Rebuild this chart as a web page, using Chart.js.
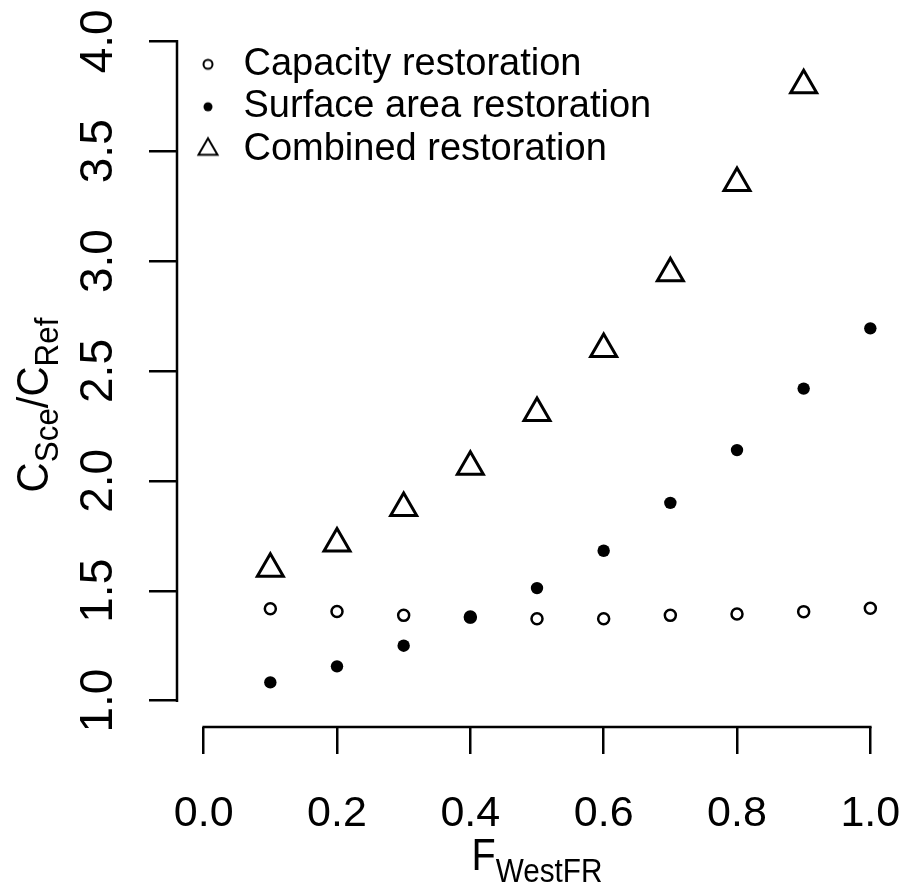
<!DOCTYPE html>
<html lang="en">
<head>
<meta charset="UTF-8">
<title>Restoration scenarios</title>
<script src="https://cdn.jsdelivr.net/npm/chart.js"></script>
<style>
  body { margin: 0; background: #fff; }
  #wrap { width: 907px; height: 893px; }
</style>
</head>
<body>
<div id="wrap"><canvas id="chart" width="907" height="893"></canvas></div>
<script>
// values
const fWest = [0.1, 0.2, 0.3, 0.4, 0.5, 0.6, 0.7, 0.8, 0.9, 1.0];
const capacity = [1.418, 1.406, 1.388, 1.380, 1.373, 1.373, 1.388, 1.394, 1.405, 1.420];
const surface = [1.083, 1.156, 1.250, 1.379, 1.512, 1.682, 1.900, 2.140, 2.420, 2.694];
const combined = [1.600, 1.715, 1.877, 2.064, 2.309, 2.600, 2.945, 3.355, 3.800];
const xTicks = [0.0, 0.2, 0.4, 0.6, 0.8, 1.0];
const yTicks = [1.0, 1.5, 2.0, 2.5, 3.0, 3.5, 4.0];
const seriesNames = ['Capacity restoration', 'Surface area restoration', 'Combined restoration'];

const FONT = '"Liberation Sans", Arial, sans-serif';

const toPoints = ys => ys.map((y, i) => ({ x: fWest[i], y: y }));

// small icons for the legend (sizes differ from the plot symbols, like in R)
function legendIcon(kind) {
    const c = document.createElement('canvas');
    c.width = 44; c.height = 34;
    const g = c.getContext('2d');
    const cx = 27, cy = 17;
    g.strokeStyle = '#000';
    g.fillStyle = '#000';
    g.lineWidth = 2;
    g.beginPath();
    if (kind === 'open') {
        g.arc(cx, cy, 4.5, 0, Math.PI * 2);
        g.stroke();
    } else if (kind === 'dot') {
        g.arc(cx, cy, 4.5, 0, Math.PI * 2);
        g.fill();
    } else {
        const r = 11;
        g.moveTo(cx, cy - r);
        g.lineTo(cx + r * 0.866, cy + r / 2);
        g.lineTo(cx - r * 0.866, cy + r / 2);
        g.closePath();
        g.stroke();
    }
    return c;
}
const legendIcons = [legendIcon('open'), legendIcon('dot'), legendIcon('tri')];

// text with subscripts, parts = [[text, size, dy], ...], centred on 0
function drawParts(ctx, parts, along) {
    let total = 0;
    parts.forEach(p => {
        ctx.font = p[1] + 'px ' + FONT;
        total += ctx.measureText(p[0]).width;
    });
    ctx.scale(along, 1);
    let x = -total / 2;
    ctx.textAlign = 'left';
    ctx.textBaseline = 'alphabetic';
    parts.forEach(p => {
        ctx.font = p[1] + 'px ' + FONT;
        ctx.fillText(p[0], x, p[2]);
        x += ctx.measureText(p[0]).width;
    });
}

// R-style detached axes: line only from first to last tick, tick labels, titles
const rAxes = {
    id: 'rAxes',
    afterDraw(chart) {
        const { ctx, chartArea } = chart;
        const x = chart.scales.x, y = chart.scales.y;
        ctx.save();
        ctx.strokeStyle = '#000';
        ctx.lineWidth = 2.5;
        ctx.lineCap = 'square';
        ctx.beginPath();
        ctx.moveTo(chartArea.left, y.getPixelForValue(yTicks[0]));
        ctx.lineTo(chartArea.left, y.getPixelForValue(yTicks[yTicks.length - 1]));
        ctx.moveTo(x.getPixelForValue(xTicks[0]), chartArea.bottom);
        ctx.lineTo(x.getPixelForValue(xTicks[xTicks.length - 1]), chartArea.bottom);
        ctx.stroke();

        ctx.fillStyle = '#000';
        ctx.textAlign = 'center';
        ctx.textBaseline = 'alphabetic';

        ctx.font = '43px ' + FONT;
        x.ticks.forEach(t => {
            ctx.fillText(t.value.toFixed(1), x.getPixelForValue(t.value), chartArea.bottom + 99);
        });

        ctx.font = '46px ' + FONT;
        y.ticks.forEach(t => {
            ctx.save();
            ctx.translate(chartArea.left - 65, y.getPixelForValue(t.value));
            ctx.rotate(-Math.PI / 2);
            ctx.fillText(t.value.toFixed(1), 0, 0);
            ctx.restore();
        });

        // x title  F_WestFR
        ctx.save();
        ctx.translate((chartArea.left + chartArea.right) / 2, 870);
        drawParts(ctx, [['F', 44, 0], ['WestFR', 33, 12]], 0.9);
        ctx.restore();

        // y title  C_Sce / C_Ref
        ctx.save();
        ctx.translate(48, 405);
        ctx.rotate(-Math.PI / 2);
        drawParts(ctx, [['C', 44, 0], ['Sce', 33, 10], ['/', 44, 0], ['C', 44, 0], ['Ref', 33, 10]], 0.95);
        ctx.restore();
        ctx.restore();
    }
};

new Chart(document.getElementById('chart'), {
    type: 'scatter',
    data: {
        datasets: [
            {
                label: seriesNames[0],
                data: toPoints(capacity),
                pointStyle: 'circle',
                pointRadius: 5.5,
                borderWidth: 2.5,
                borderColor: '#000',
                backgroundColor: 'rgba(0,0,0,0)',
                order: 3
            },
            {
                label: seriesNames[1],
                data: toPoints(surface),
                pointStyle: 'circle',
                pointRadius: 6.2,
                borderWidth: 0,
                borderColor: '#000',
                backgroundColor: '#000',
                order: 2
            },
            {
                label: seriesNames[2],
                data: toPoints(combined),
                pointStyle: 'triangle',
                pointRadius: 15,
                borderWidth: 3,
                borderColor: '#000',
                backgroundColor: 'rgba(0,0,0,0)',
                order: 1
            }
        ]
    },
    options: {
        responsive: false,
        animation: false,
        events: [],
        clip: false,
        layout: { autoPadding: false, padding: { top: 15, right: 10, left: 0, bottom: 0 } },
        plugins: {
            tooltip: { enabled: false },
            legend: {
                position: 'chartArea',
                align: 'start',
                title: { display: true, text: '', padding: 18, font: { size: 4 } },
                labels: {
                    usePointStyle: true,
                    pointStyleWidth: 43,
                    padding: 4.5,
                    color: '#000',
                    font: { family: FONT, size: 38 },
                    generateLabels: chart => seriesNames.map((name, i) => ({
                        text: name,
                        pointStyle: legendIcons[i],
                        fillStyle: '#000',
                        strokeStyle: '#000',
                        fontColor: '#000',
                        lineWidth: 0,
                        hidden: false,
                        datasetIndex: i
                    }))
                }
            }
        },
        scales: {
            x: {
                type: 'linear',
                min: -0.04,
                max: 1.04,
                afterBuildTicks: s => { s.ticks = xTicks.map(v => ({ value: v })); },
                afterFit: s => { s.height = 166; },
                border: { display: false },
                grid: { drawOnChartArea: false, drawTicks: true, tickLength: 27, color: '#000', lineWidth: 2.5 },
                ticks: { display: false }
            },
            y: {
                type: 'linear',
                min: 0.88,
                max: 4.12,
                afterBuildTicks: s => { s.ticks = yTicks.map(v => ({ value: v })); },
                afterFit: s => { s.width = 177; },
                border: { display: false },
                grid: { drawOnChartArea: false, drawTicks: true, tickLength: 28, color: '#000', lineWidth: 2.5 },
                ticks: { display: false }
            }
        }
    },
    plugins: [rAxes]
});
</script>
</body>
</html>
